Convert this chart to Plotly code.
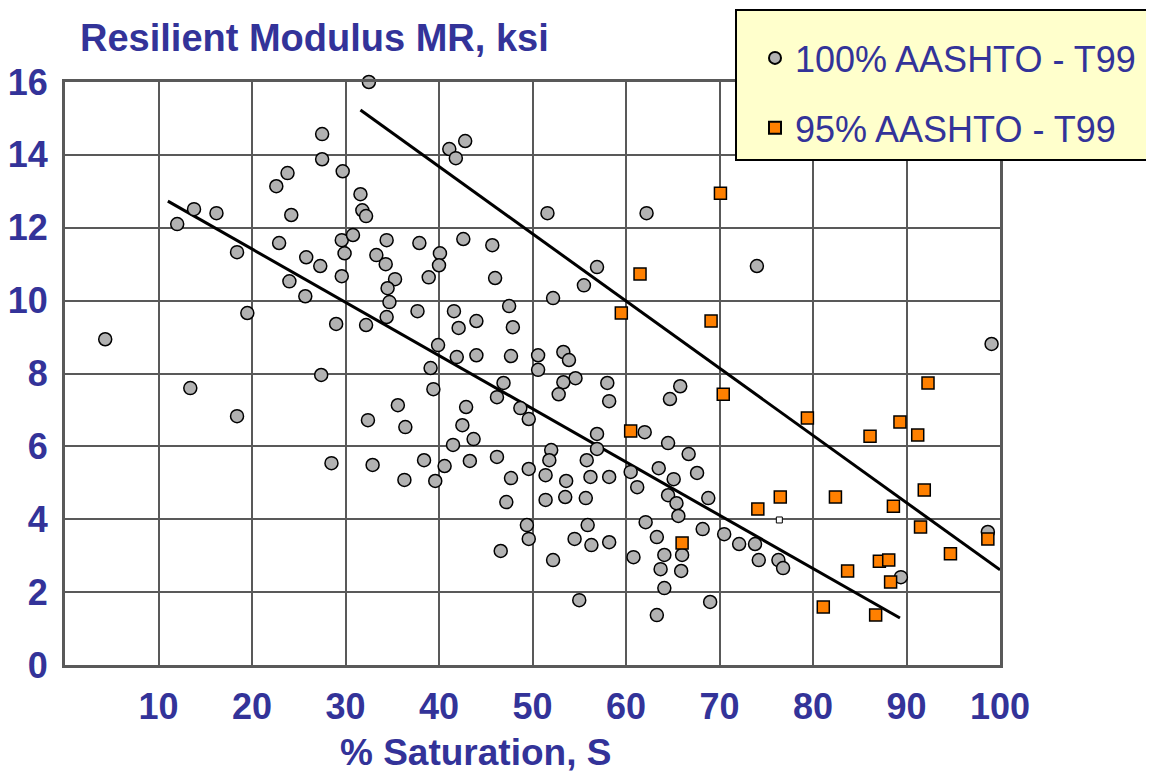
import plotly.graph_objects as go

# ---- data ----
sat_100 = [4.3, 12.0, 13.8, 16.2, 13.4, 18.4, 19.5, 18.4, 22.6, 23.8, 22.9, 24.2, 24.0, 25.7, 25.8,
           27.5, 27.5, 29.7, 27.3, 29.6, 29.9, 29.6, 29.0, 27.4, 28.5, 32.5, 31.6, 31.8, 32.2, 30.8,
           32.2, 33.3, 34.3, 34.4, 35.3, 34.5, 34.7, 34.4, 32.4, 32.9, 35.6, 36.4, 36.3, 37.9, 37.7,
           38.9, 40.1, 40.0, 39.9, 39.1, 39.4, 38.4, 39.6, 40.6,
           42.8, 41.1, 41.8, 51.6, 62.2, 42.6, 45.7, 46.0, 56.9, 55.5, 52.2, 41.6, 44.0, 47.5, 47.9,
           42.1, 41.9, 44.0, 47.7, 50.6, 53.3, 53.9, 50.6,
           46.9, 54.6, 53.3, 58.0, 46.2, 52.8, 58.2, 42.9, 48.7, 49.6, 42.5, 56.9, 62.0, 43.7, 41.5,
           52.0, 56.9, 43.3, 46.2, 51.8, 55.8, 49.6, 47.7, 51.4, 53.6, 56.2, 58.2, 60.5, 61.2, 47.2,
           51.4, 53.5, 55.7, 62.1, 49.4, 55.9, 49.6, 54.5, 56.3, 58.2, 46.6, 52.2, 60.8, 55.0,
           65.8, 64.7, 64.5, 66.7, 63.5, 65.1, 67.6, 64.5, 65.4, 68.8, 65.6, 63.3, 68.2, 70.5, 72.1,
           73.8, 64.1, 66.0, 74.2, 76.3, 76.8, 63.7, 65.9, 64.1, 69.0, 63.3, 98.7, 89.4,
           74.0, 99.1]
mr_100 = [8.94, 12.10, 12.51, 12.40, 7.60, 11.33, 9.66, 6.83, 13.14, 13.50, 11.58, 12.35, 10.53, 10.12, 11.19,
          14.57, 13.88, 13.55, 10.95, 11.66, 11.30, 10.67, 9.36, 7.96, 5.54, 16.0, 12.92, 12.48, 12.32, 11.80,
          9.33, 11.25, 11.00, 11.66, 10.59, 10.34, 9.96, 9.55, 6.72, 5.49, 7.13, 6.53, 5.08, 11.58, 9.71,
          10.64, 11.30, 10.97, 8.78, 8.15, 7.57, 5.62, 5.05, 5.46,
          14.38, 14.16, 13.91, 12.40, 12.40, 11.69, 11.52, 10.62, 10.92, 10.42, 10.07, 9.71, 9.44, 9.85, 9.27,
          9.25, 8.45, 8.50, 8.48, 8.50, 8.59, 8.37, 8.10,
          7.74, 7.87, 7.76, 7.74, 7.35, 7.43, 7.24, 7.08, 7.05, 6.75, 6.58, 6.34, 6.39, 6.20, 6.04,
          5.90, 5.93, 5.60, 5.71, 5.62, 5.62, 5.38, 5.13, 5.21, 5.05, 5.16, 5.16, 5.30, 4.88, 4.47,
          4.53, 4.61, 4.58, 3.92, 3.84, 3.84, 3.46, 3.46, 3.29, 3.37, 3.13, 2.88, 2.96, 1.78,
          7.65, 7.30, 6.09, 5.79, 5.40, 5.10, 5.27, 4.66, 4.44, 4.58, 4.09, 3.51, 3.73, 3.59, 3.32,
          3.32, 3.02, 3.02, 2.88, 2.88, 2.66, 2.63, 2.58, 2.11, 1.73, 1.37, 3.65, 2.41,
          10.95, 8.81]

sat_95 = [70.1, 61.5, 59.5, 69.1, 70.4, 92.3, 60.5, 79.4, 89.3, 86.1, 91.2, 91.9, 76.5, 82.4, 74.1,
          88.6, 91.5, 66.0, 98.7, 94.7, 87.1, 88.1, 83.7, 88.3, 81.1, 86.7]
mr_95 = [12.95, 10.73, 9.66, 9.44, 7.43, 7.74, 6.42, 6.78, 6.67, 6.28, 6.31, 4.80, 4.61, 4.61, 4.28,
         4.36, 3.79, 3.35, 3.46, 3.05, 2.85, 2.88, 2.58, 2.28, 1.59, 1.37]

stray_x = [76.4]
stray_y = [3.98]

trend_lo_x = [11.0, 89.3]
trend_lo_y = [12.73, 1.29]
trend_hi_x = [31.6, 100.0]
trend_hi_y = [15.23, 2.61]

x_ticks = [10, 20, 30, 40, 50, 60, 70, 80, 90, 100]
y_ticks = [0, 2, 4, 6, 8, 10, 12, 14, 16]

title_text = "Resilient Modulus MR, ksi"
xlabel_text = "% Saturation, S"
name_100 = "100% AASHTO - T99"
name_95 = "95% AASHTO - T99"

BLUE = "#333399"
GRID = "#595959"
FONT = "Liberation Sans, Arial, sans-serif"

fig = go.Figure()
fig.add_trace(go.Scatter(x=trend_lo_x, y=trend_lo_y, mode="lines", line=dict(color="black", width=3),
                         showlegend=False, hoverinfo="skip"))
fig.add_trace(go.Scatter(x=trend_hi_x, y=trend_hi_y, mode="lines", line=dict(color="black", width=3),
                         showlegend=False, hoverinfo="skip"))
fig.add_trace(go.Scatter(x=sat_100, y=mr_100, mode="markers", name=name_100, legendgroup="a",
                         cliponaxis=False,
                         marker=dict(symbol="circle", size=13, color="#B2B2B2",
                                     line=dict(color="black", width=1.5))))
fig.add_trace(go.Scatter(x=sat_95, y=mr_95, mode="markers", name=name_95, legendgroup="b",
                         cliponaxis=False,
                         marker=dict(symbol="square", size=12, color="#FF8000",
                                     line=dict(color="black", width=1.5))))
fig.add_trace(go.Scatter(x=stray_x, y=stray_y, mode="markers", showlegend=False, cliponaxis=False,
                         marker=dict(symbol="square", size=6, color="white",
                                     line=dict(color="black", width=1))))

# legend background box (extends beyond right edge like the reference)
fig.add_shape(type="rect", xref="paper", yref="paper", x0=(736 - 65) / 935, x1=1.3,
              y0=(665 - 160) / 583, y1=(665 - 10) / 583,
              fillcolor="#FFFFCC", line=dict(color="black", width=2), layer="above")

fig.add_annotation(text="<b>" + title_text + "</b>", xref="paper", yref="paper",
                   x=(78 - 65) / 935, y=(665 - 38) / 583, xanchor="left", yanchor="middle",
                   showarrow=False, font=dict(family=FONT, size=38, color=BLUE))
fig.add_annotation(text="<b>" + xlabel_text + "</b>", xref="paper", yref="paper",
                   x=(475 - 65) / 935, y=(665 - 752) / 583, xanchor="center", yanchor="middle",
                   showarrow=False, font=dict(family=FONT, size=37, color=BLUE))

# the page body adds an 8px offset, so the figure is laid out 8px smaller / up-left
fig.update_layout(
    width=1146, height=765,
    margin=dict(l=57, r=154, t=74, b=108, autoexpand=False),
    plot_bgcolor="white", paper_bgcolor="white",
    showlegend=True,
    legend=dict(x=(755 - 65) / 935, y=(665 - 28) / 583, xanchor="left", yanchor="top",
                bgcolor="rgba(0,0,0,0)", borderwidth=0,
                font=dict(family=FONT, size=36, color=BLUE),
                tracegroupgap=20, traceorder="grouped", itemsizing="constant"),
    xaxis=dict(range=[0, 100], tickvals=x_ticks, ticktext=[str(v) for v in x_ticks],
               showgrid=True, gridcolor=GRID, gridwidth=2, zeroline=False, automargin=False,
               showline=True, linecolor=GRID, linewidth=3, mirror=True, ticks="",
               ticklabelstandoff=8,
               tickfont=dict(family=FONT, size=36, color=BLUE, weight="bold")),
    yaxis=dict(range=[0, 16], tickvals=y_ticks, ticktext=[str(v) for v in y_ticks],
               showgrid=True, gridcolor=GRID, gridwidth=2, zeroline=False, automargin=False,
               showline=True, linecolor=GRID, linewidth=3, mirror=True, ticks="",
               ticklabelstandoff=7,
               tickfont=dict(family=FONT, size=36, color=BLUE, weight="bold")),
)

fig.write_html("out.html")
